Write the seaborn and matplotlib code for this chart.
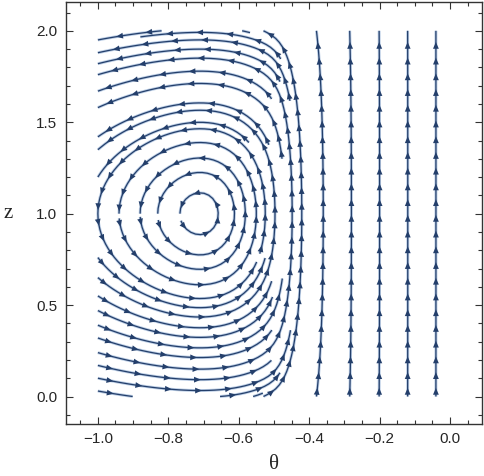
import numpy as np
import matplotlib
matplotlib.use("Agg")
import matplotlib.pyplot as plt
import seaborn as sns
from matplotlib.patches import FancyArrowPatch
from matplotlib.collections import LineCollection
from matplotlib.ticker import MultipleLocator

sns.set_theme(style="white")
plt.rcParams['font.family'] = ['Liberation Sans', 'DejaVu Sans']

# ---- field description ----
theta_limits = [-1.0, 0.0]
z_limits = [0.0, 2.0]
vortex_theta = -0.71
vortex_z = 1.0
wall_stiffness = 2.2
swirl_strength = 21.5
swirl_power = 2.0
front_strength = 38.0
front_theta = -0.455
front_scale = 0.06
gate_theta, gate_width = -0.48, 0.02

# ---- seed points of the streamlines ----
seed_theta = [-0.04, -0.12, -0.20, -0.28, -0.36, -0.421, -0.497,
              -0.767, -0.83, -0.88, -0.94,
              -1.0, -1.0, -1.0, -1.0, -1.0, -1.0, -1.0, -1.0, -1.0, -1.0,
              -1.0, -1.0, -1.0, -1.0, -1.0, -1.0, -1.0, -1.0, -1.0,
              -0.653, -0.559, -0.677, -0.568, -0.54]
seed_z = [1.0, 1.0, 1.0, 1.0, 1.0, 1.0, 1.0,
          1.0, 1.0, 1.0, 1.0,
          0.03, 0.10, 0.17, 0.24, 0.32, 0.39, 0.47, 0.55, 0.64, 0.76,
          1.0, 1.20, 1.42, 1.58, 1.67, 1.75, 1.82, 1.88, 1.95,
          0.0, 0.0, 1.99, 1.99, 1.0]

theta_ticks = [-1.0, -0.8, -0.6, -0.4, -0.2, 0.0]
z_ticks = [0.0, 0.5, 1.0, 1.5, 2.0]

line_dark = '#243f6b'
line_light = '#a3bcdc'

fig = plt.figure(figsize=(4.84, 4.76), dpi=100)
ax = fig.add_axes([0.136, 0.109, 0.860, 0.887])

th = np.linspace(theta_limits[0], theta_limits[1], 301)
zz = np.linspace(z_limits[0], z_limits[1], 301)
TH, ZZ = np.meshgrid(th, zz)
T = np.clip(-TH, 1e-3, None)
U = -wall_stiffness * np.sinh(wall_stiffness * (ZZ - vortex_z))
gate = 1.0 / (1.0 + np.exp(-(TH - gate_theta) / gate_width))
W = (swirl_strength * (TH - vortex_theta) * (abs(vortex_theta) / T) ** swirl_power
     + front_strength * np.exp((TH - front_theta) / front_scale) * gate)

starts = np.column_stack([seed_theta, seed_z])
sp = ax.streamplot(TH, ZZ, U, W, start_points=starts, density=(1.4, 2.3),
                   color=line_dark, linewidth=0.9, arrowsize=0,
                   minlength=0.02, maxlength=4.0, zorder=3)

segs = sp.lines.get_segments()
ax.add_collection(LineCollection(segs, colors=line_light, linewidths=2.1,
                                 zorder=2, alpha=0.75))

# arrows along every streamline, spaced evenly along the line
spacing = 0.086
for seg in segs:
    seg = np.asarray(seg)
    if len(seg) < 3:
        continue
    d = np.hypot(np.diff(seg[:, 0]), np.diff(seg[:, 1]))
    s = np.concatenate([[0], np.cumsum(d)])
    total = s[-1]
    pos = spacing * 0.5
    while pos < total - 0.01:
        a = np.interp(pos - 0.004, s, seg[:, 0]), np.interp(pos - 0.004, s, seg[:, 1])
        b = np.interp(pos + 0.004, s, seg[:, 0]), np.interp(pos + 0.004, s, seg[:, 1])
        arr = FancyArrowPatch(a, b, arrowstyle='-|>,head_length=0.7,head_width=0.3',
                              mutation_scale=7, color=line_dark, lw=0,
                              shrinkA=0, shrinkB=0, zorder=4)
        ax.add_patch(arr)
        pos += spacing

ax.set_xlim(-1.091, 0.091)
ax.set_ylim(-0.151, 2.158)
ax.set_xticks(theta_ticks)
ax.set_yticks(z_ticks)
ax.set_xticklabels([f"{t:.1f}".replace('-', '\u2212') for t in theta_ticks])
ax.set_yticklabels([f"{t:.1f}" for t in z_ticks])
ax.xaxis.set_minor_locator(MultipleLocator(0.05))
ax.yaxis.set_minor_locator(MultipleLocator(0.1))
ax.tick_params(which='both', direction='in', top=True, right=True,
               bottom=True, left=True, color='#333333', width=0.8)
ax.tick_params(which='major', length=5, labelsize=11, pad=6)
ax.tick_params(which='minor', length=3)
for sp_ in ax.spines.values():
    sp_.set_color('#333333')
    sp_.set_linewidth(1.0)
ax.set_xlabel('\u03b8', fontsize=15, family=['Liberation Serif', 'DejaVu Serif'], labelpad=6)
ax.set_ylabel('z', fontsize=15, family=['Liberation Serif', 'DejaVu Serif'],
              rotation=0, labelpad=20, va='center')
ax.set_facecolor('white')
fig.patch.set_facecolor('white')

fig.savefig('out.png', dpi=100, facecolor='white')
